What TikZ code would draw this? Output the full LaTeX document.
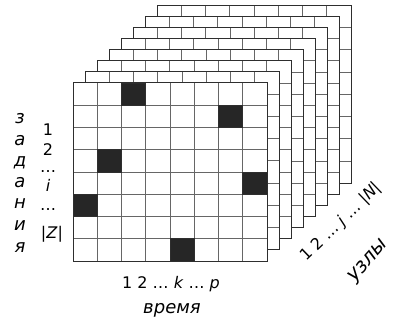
\documentclass[tikz,border=0pt]{standalone}
\usepackage{fontspec}
\setmainfont{DejaVu Sans}
\definecolor{gridline}{HTML}{666666}
\definecolor{gridframe}{HTML}{2E2E2E}
\definecolor{busycell}{HTML}{262626}
\usetikzlibrary{calc}

\begin{document}
\begin{tikzpicture}[
  x=1pt, y=-1pt,
  lbl/.style={font=\fontsize{18}{21}\selectfont\itshape, inner sep=0pt, anchor=base},
  num/.style={font=\fontsize{16}{19}\selectfont, inner sep=0pt, anchor=base},
  cellline/.style={draw=gridline, line width=0.8pt},
  frame/.style={draw=gridframe, line width=1pt},
  busy/.style={fill=busycell, draw=gridframe, line width=0.8pt}
]
\useasboundingbox (0,0) rectangle (398,320);

% schedule layers, back to front
\foreach \k in {7,...,0}{
  \begin{scope}[shift={(12*\k,-11.1*\k)}]
    \fill[white] (73,83) rectangle (267,261);
    \foreach \c in {1,...,7}
      \draw[cellline] ({73+24.25*\c},83) -- ({73+24.25*\c},261);
    \foreach \r in {1,...,7}
      \draw[cellline] (73,{83+22.25*\r}) -- (267,{83+22.25*\r});
    \draw[frame] (73,83) rectangle (267,261);
  \end{scope}
}

% occupied cells of the front layer
\foreach \c/\r in {2/0,6/1,1/3,7/4,0/5,4/7}
  \draw[busy] ({73+24.25*\c},{83+22.25*\r}) rectangle ++(24.25,22.25);

% tasks
\foreach \ch/\y [count=\i] in {з/124,а/146,д/167,а/188,н/208,и/230,я/252}
  \node[lbl] (task\i) at (20,\y) {\ch};
\node[num] (row1) at (48,136) {1};
\node[num] (row2) at (48,156) {2};
\node[num] (rowdots1) at (48,173) {\dots};
\node[num] (rowi) at (48,192) {\textit{i}};
\node[num] (rowdots2) at (48,211) {\dots};
\node[num] (rowZ) at (52,238) {|\textit{Z}|};

% time
\node[num] (timeidx) at (171,288) {1 2 \dots\ \textit{k} \dots\ \textit{p}};
\node[lbl] (timelbl) at (172,313) {время};

% nodes
\node[num, anchor=base west, rotate=44] (nodeidx) at (306,262) {1 2 \dots\ \textit{j} \dots\ |\textit{N}|};
\node[lbl, font=\fontsize{20}{23}\selectfont\itshape, anchor=base west, rotate=48] (nodelbl) at (354,283) {узлы};

\end{tikzpicture}
\end{document}
